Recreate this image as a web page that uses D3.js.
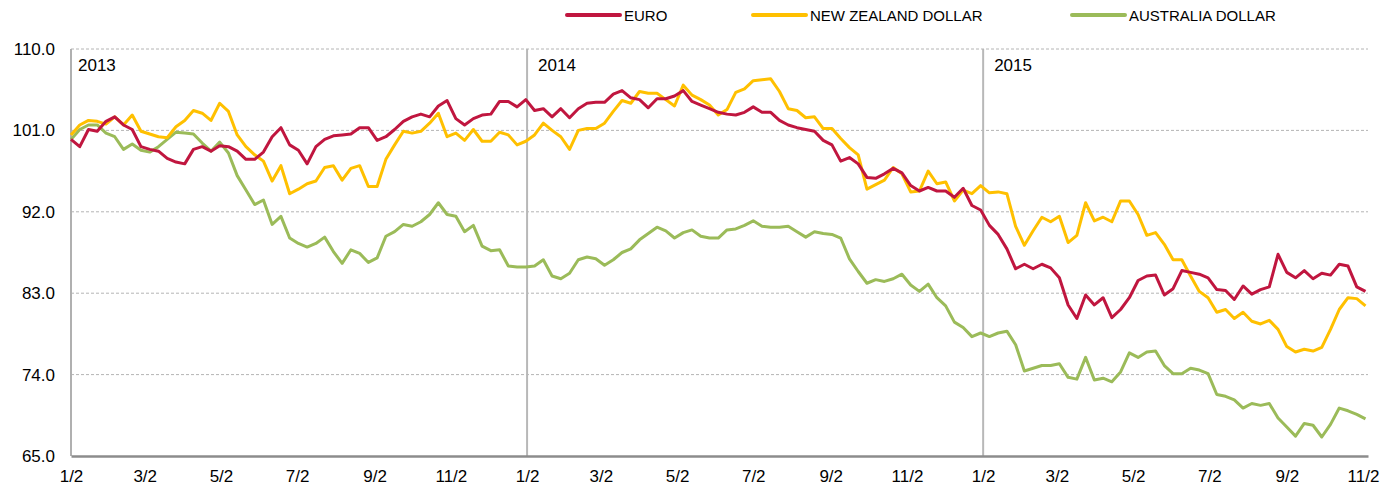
<!DOCTYPE html>
<html>
<head>
<meta charset="utf-8">
<script src="https://cdn.jsdelivr.net/npm/d3@7"></script>
<style>
    body { margin: 0; background: white; }
    svg { display: block; font-family: 'Liberation Sans', Arial, sans-serif; }
</style>
</head>
<body>
<div id="graphContainer"></div>
<script>
// weekly index values, first point 2013-01-02, one point every 7 days
const startDate = '2013-01-02';
const stepDays = 7;

const euro = [
    100.0, 99.2, 101.1, 100.9, 102.0, 102.5, 101.6, 101.1, 99.2, 98.9,
    98.7, 97.9, 97.5, 97.3, 98.9, 99.2, 98.7, 99.3, 99.2, 98.7,
    97.8, 97.8, 98.6, 100.3, 101.3, 99.4, 98.8, 97.3, 99.2, 100.0,
    100.4, 100.5, 100.6, 101.3, 101.3, 99.9, 100.3, 101.1, 102.0, 102.5,
    102.8, 102.5, 103.7, 104.3, 102.3, 101.6, 102.3, 102.7, 102.8, 104.2,
    104.2, 103.6, 104.4, 103.2, 103.4, 102.5, 103.4, 102.4, 103.4, 104.0,
    104.1, 104.1, 105.0, 105.4, 104.6, 104.4, 103.5, 104.5, 104.5, 104.8,
    105.4, 104.2, 103.8, 103.4, 103.0, 102.8, 102.7, 103.0, 103.6, 103.0,
    103.0, 102.1, 101.6, 101.3, 101.1, 100.9, 99.9, 99.4, 97.6, 98.0,
    97.3, 95.8, 95.7, 96.2, 96.8, 96.3, 94.9, 94.3, 94.7, 94.3,
    94.3, 93.6, 94.6, 92.7, 92.2, 90.5, 89.5, 87.9, 85.7, 86.2,
    85.7, 86.2, 85.8, 84.7, 81.7, 80.2, 82.8, 81.7, 82.5, 80.3,
    81.2, 82.5, 84.4, 84.9, 85.0, 82.8, 83.5, 85.5, 85.3, 85.1,
    84.7, 83.4, 83.3, 82.3, 83.8, 82.9, 83.4, 83.7, 87.3, 85.3,
    84.7, 85.5, 84.6, 85.2, 85.0, 86.2, 86.0, 83.7, 83.2
];

const nzd = [
    100.5, 101.6, 102.1, 102.0, 101.7, 102.5, 101.6, 102.7, 100.9, 100.6,
    100.3, 100.2, 101.4, 102.1, 103.2, 102.9, 102.1, 104.0, 103.1, 100.5,
    99.2, 98.3, 97.6, 95.4, 97.1, 94.0, 94.5, 95.1, 95.4, 96.9,
    97.1, 95.5, 96.8, 97.1, 94.8, 94.8, 97.8, 99.4, 100.9, 100.7,
    100.9, 101.8, 102.9, 100.3, 100.7, 99.9, 101.1, 99.8, 99.8, 100.8,
    100.5, 99.4, 99.8, 100.5, 101.8, 101.0, 100.3, 98.9, 101.0, 101.2,
    101.2, 101.8, 103.1, 104.3, 104.0, 105.3, 105.1, 105.1, 104.4, 103.7,
    106.0, 104.9, 104.4, 103.8, 102.7, 103.3, 105.2, 105.6, 106.5, 106.6,
    106.7, 105.3, 103.4, 103.2, 102.4, 102.5, 101.2, 101.2, 100.1, 99.1,
    98.3, 94.5, 95.0, 95.5, 96.9, 96.2, 94.2, 94.3, 96.5, 95.1,
    95.3, 93.2, 94.4, 94.0, 94.9, 94.1, 94.2, 94.0, 90.4, 88.3,
    89.9, 91.4, 90.9, 91.5, 88.6, 89.4, 93.0, 91.0, 91.4, 90.9,
    93.2, 93.2, 91.7, 89.4, 89.7, 88.4, 86.7, 86.7, 84.9, 83.2,
    82.5, 80.9, 81.2, 80.2, 80.9, 79.9, 79.6, 80.0, 79.0, 77.1,
    76.5, 76.8, 76.6, 77.0, 79.0, 81.2, 82.5, 82.4, 81.6
];

const aud = [
    100.0, 101.1, 101.6, 101.6, 100.7, 100.3, 98.9, 99.5, 98.8, 98.6,
    99.2, 100.0, 100.8, 100.7, 100.6, 99.6, 98.7, 99.7, 98.5, 96.0,
    94.4, 92.8, 93.3, 90.6, 91.5, 89.1, 88.5, 88.1, 88.5, 89.2,
    87.6, 86.3, 87.8, 87.4, 86.4, 86.9, 89.3, 89.8, 90.6, 90.4,
    90.9, 91.7, 93.0, 91.7, 91.5, 89.8, 90.5, 88.2, 87.7, 87.8,
    86.0, 85.9, 85.9, 86.0, 86.7, 84.9, 84.6, 85.2, 86.7, 87.0,
    86.8, 86.1, 86.7, 87.5, 87.9, 88.9, 89.6, 90.3, 89.9, 89.1,
    89.7, 90.0, 89.3, 89.1, 89.1, 90.0, 90.1, 90.5, 91.0, 90.4,
    90.3, 90.3, 90.4, 89.8, 89.2, 89.8, 89.6, 89.5, 89.1, 86.8,
    85.4, 84.1, 84.5, 84.3, 84.6, 85.1, 83.9, 83.2, 84.0, 82.5,
    81.6, 79.8, 79.2, 78.2, 78.6, 78.2, 78.6, 78.8, 77.3, 74.4,
    74.7, 75.0, 75.0, 75.2, 73.7, 73.5, 75.9, 73.4, 73.6, 73.2,
    74.3, 76.4, 75.9, 76.5, 76.6, 75.0, 74.1, 74.1, 74.7, 74.5,
    74.1, 71.8, 71.6, 71.2, 70.3, 70.8, 70.6, 70.8, 69.2, 68.2,
    67.2, 68.6, 68.4, 67.1, 68.5, 70.3, 70.0, 69.6, 69.1
];

const seriesNames = ['EURO', 'NEW ZEALAND DOLLAR', 'AUSTRALIA DOLLAR'];
const seriesColors = ['#c0163f', '#ffc000', '#9bbb59'];

const yTicks = [65, 74, 83, 92, 101, 110];
const years = [2013, 2014, 2015];
const tickMonths = [1, 3, 5, 7, 9, 11];

drawGraph();

function drawGraph() {
    drawSVG();
    drawChart();
}

function drawSVG() {
    d3.select('#graphContainer')
        .append('svg')
        .attr('width', 1397)
        .attr('height', 491);
}

function drawChart() {
    const svg = d3.select('svg');
    const left = 71, right = 1368, top = 49, bottom = 456;

    const parse = d3.timeParse('%Y-%m-%d');
    const start = parse(startDate);
    const dates = euro.map(function (d, i) {
        return d3.timeDay.offset(start, i * stepDays);
    });

    const x = d3.scaleTime()
        .domain([start, new Date(2015, 10, 6)])
        .range([left, right]);

    const y = d3.scaleLinear()
        .domain([65, 110])
        .range([bottom, top]);

    // dashed horizontal grid
    svg.append('g')
        .selectAll('line')
        .data(yTicks.slice(1))
        .enter()
        .append('line')
        .attr('x1', left)
        .attr('x2', right)
        .attr('y1', function (d) { return y(d); })
        .attr('y2', function (d) { return y(d); })
        .attr('stroke', '#b4b4b4')
        .attr('stroke-width', 1)
        .attr('stroke-dasharray', '3,2');

    // year separators (at 1/2 of each year)
    svg.append('g')
        .selectAll('line')
        .data(years.slice(1))
        .enter()
        .append('line')
        .attr('x1', function (d) { return x(new Date(d, 0, 2)); })
        .attr('x2', function (d) { return x(new Date(d, 0, 2)); })
        .attr('y1', top)
        .attr('y2', bottom)
        .attr('stroke', '#b8b8b8')
        .attr('stroke-width', 2);

    // left axis line
    svg.append('line')
        .attr('x1', left).attr('x2', left)
        .attr('y1', top).attr('y2', bottom)
        .attr('stroke', '#b0b0b0')
        .attr('stroke-width', 2);

    // y axis labels
    const yAxis = d3.axisLeft(y)
        .tickValues(yTicks)
        .tickSize(0)
        .tickPadding(16)
        .tickFormat(d3.format('.1f'));

    const gy = svg.append('g')
        .attr('transform', 'translate(' + left + ',0)')
        .call(yAxis);
    gy.select('.domain').remove();
    gy.selectAll('text')
        .attr('font-size', 17)
        .attr('font-family', "'Liberation Sans', Arial, sans-serif")
        .attr('fill', '#000');

    // x axis
    const xTickDates = [];
    years.forEach(function (yr) {
        tickMonths.forEach(function (m) {
            xTickDates.push(new Date(yr, m - 1, 2));
        });
    });

    const xAxis = d3.axisBottom(x)
        .tickValues(xTickDates)
        .tickSize(0)
        .tickPadding(14)
        .tickFormat(function (d) { return (d.getMonth() + 1) + '/2'; });

    const gx = svg.append('g')
        .attr('transform', 'translate(0,' + bottom + ')')
        .call(xAxis);
    gx.select('.domain')
        .attr('stroke', '#8c8c8c')
        .attr('stroke-width', 2.5);
    gx.selectAll('text')
        .attr('font-size', 17)
        .attr('font-family', "'Liberation Sans', Arial, sans-serif")
        .attr('fill', '#000');

    // year labels
    svg.append('g')
        .selectAll('text')
        .data(years)
        .enter()
        .append('text')
        .attr('x', function (d, i) { return x(new Date(d, 0, 2)) + (i === 0 ? 7 : 11); })
        .attr('y', 71)
        .attr('font-size', 17)
        .attr('fill', '#000')
        .text(function (d) { return d; });

    // lines
    const allSeries = [euro, nzd, aud];
    const line = d3.line()
        .x(function (d, i) { return x(dates[i]); })
        .y(function (d) { return y(d); });

    const order = [2, 1, 0];
    svg.append('g')
        .selectAll('path')
        .data(order)
        .enter()
        .append('path')
        .attr('d', function (k) { return line(allSeries[k]); })
        .attr('fill', 'none')
        .attr('stroke', function (k) { return seriesColors[k]; })
        .attr('stroke-width', 3)
        .attr('stroke-linejoin', 'round');

    // legend
    const legendX = [567, 753, 1072];
    const legend = svg.append('g')
        .selectAll('g')
        .data(seriesNames)
        .enter()
        .append('g')
        .attr('transform', function (d, i) { return 'translate(' + legendX[i] + ',15)'; });

    legend.append('line')
        .attr('x1', 0)
        .attr('x2', 53)
        .attr('stroke', function (d, i) { return seriesColors[i]; })
        .attr('stroke-width', 4)
        .attr('stroke-linecap', 'round');

    legend.append('text')
        .attr('x', 57)
        .attr('y', 5.5)
        .attr('font-size', 15)
        .attr('fill', '#000')
        .text(function (d) { return d; });
}
</script>
</body>
</html>
